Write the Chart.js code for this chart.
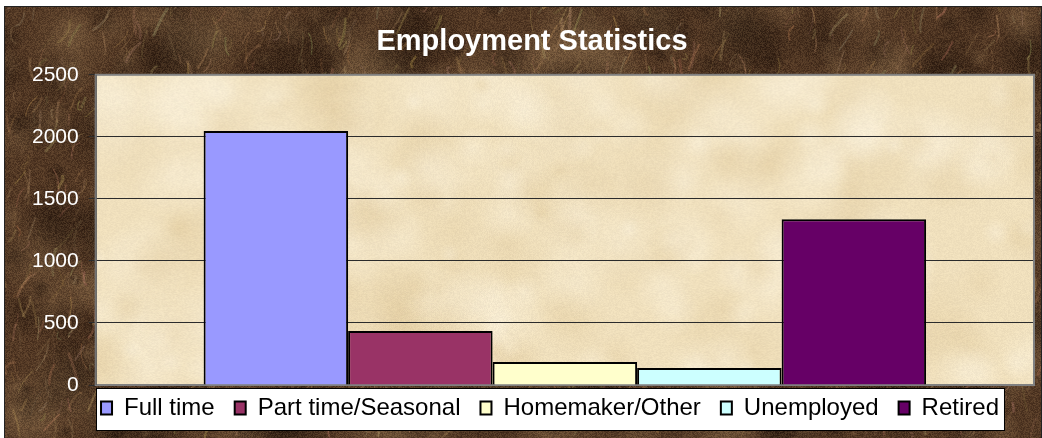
<!DOCTYPE html>
<html>
<head>
<meta charset="utf-8">
<title>Employment Statistics</title>
<script src="https://cdn.jsdelivr.net/npm/chart.js@4.4.0/dist/chart.umd.min.js"></script>
<style>
html, body { margin: 0; padding: 0; background: #fff; }
#wrap { position: absolute; left: 4px; top: 6px; width: 1036px; height: 432px; border: 1px solid #222; border-bottom: none; }
</style>
</head>
<body>
<div id="wrap"><canvas id="chart"></canvas></div>
<script>
// data
var categories = ["Employment"];
var seriesNames = ["Full time", "Part time/Seasonal", "Homemaker/Other", "Unemployed", "Retired"];
var seriesValues = [2048, 435, 185, 138, 1335];
var seriesColors = ["#9999FF", "#993366", "#FFFFCC", "#CCFFFF", "#660066"];
var yMin = 0, yMax = 2500, yStep = 500;

Chart.defaults.font.family = "'Liberation Sans', Arial, sans-serif";

// little seeded generator, only used for the background textures
function rng(seed) {
    return function () {
        seed |= 0; seed = seed + 0x6D2B79F5 | 0;
        var t = Math.imul(seed ^ seed >>> 15, 1 | seed);
        t = t + Math.imul(t ^ t >>> 7, 61 | t) ^ t;
        return ((t ^ t >>> 14) >>> 0) / 4294967296;
    };
}

function blob(g, x, y, rad, rgb, alpha) {
    var gr = g.createRadialGradient(x, y, 0, x, y, rad);
    gr.addColorStop(0, 'rgba(' + rgb + ',' + alpha + ')');
    gr.addColorStop(1, 'rgba(' + rgb + ',0)');
    g.fillStyle = gr;
    g.fillRect(x - rad, y - rad, rad * 2, rad * 2);
}

function makeMarble(w, h) {
    var c = document.createElement('canvas');
    c.width = w; c.height = h;
    var g = c.getContext('2d');
    var r = rng(11);
    g.fillStyle = '#523824';
    g.fillRect(0, 0, w, h);
    for (var i = 0; i < 460; i++) {
        var x = r() * w, y = r() * h, rad = 8 + r() * 40;
        if (r() < 0.5) blob(g, x, y, rad, '30,18,10', 0.4);
        else blob(g, x, y, rad, '140,110,76', 0.34);
    }
    g.lineCap = 'round';
    for (var i = 0; i < 1400; i++) {
        var x = r() * w, y = r() * h;
        var a = -1.9 + r() * 1.1;
        var len = 5 + r() * 26;
        g.beginPath();
        g.moveTo(x, y);
        g.quadraticCurveTo(x + Math.cos(a) * len * 0.5 + (r() - 0.5) * 12, y + Math.sin(a) * len * 0.5 + (r() - 0.5) * 12,
            x + Math.cos(a) * len, y + Math.sin(a) * len);
        g.strokeStyle = 'rgba(' + (150 + r() * 50 | 0) + ',' + (118 + r() * 45 | 0) + ',' + (80 + r() * 35 | 0) + ',' + (0.1 + r() * 0.28) + ')';
        g.lineWidth = 0.8 + r() * 2;
        g.stroke();
    }
    var img = g.getImageData(0, 0, w, h), d = img.data;
    for (var p = 0; p < d.length; p += 4) {
        var n = (r() - 0.5) * 34;
        d[p] += n; d[p + 1] += n * 0.85; d[p + 2] += n * 0.6;
    }
    g.putImageData(img, 0, 0);
    return c;
}

function makeParchment(w, h) {
    var c = document.createElement('canvas');
    c.width = w; c.height = h;
    var g = c.getContext('2d');
    var r = rng(5);
    g.fillStyle = '#f0e0bd';
    g.fillRect(0, 0, w, h);
    for (var i = 0; i < 300; i++) {
        var x = r() * w, y = r() * h, rad = 10 + r() * 40;
        if (r() < 0.5) blob(g, x, y, rad, '226,204,160', 0.35);
        else blob(g, x, y, rad, '250,241,220', 0.45);
    }
    var img = g.getImageData(0, 0, w, h), d = img.data;
    for (var p = 0; p < d.length; p += 4) {
        var n = (r() - 0.5) * 12;
        d[p] += n; d[p + 1] += n; d[p + 2] += n * 0.8;
    }
    g.putImageData(img, 0, 0);
    return c;
}

var marble = makeMarble(1036, 432);
var parchment = makeParchment(940, 310);

var backdrop = {
    id: 'backdrop',
    afterLayout: function (chart) {
        // nudge title and legend, like the original
        chart.titleBlock.left += 4; chart.titleBlock.right += 4;
        chart.legend.left += 22; chart.legend.right += 22;
        chart.legend.top -= 9; chart.legend.bottom -= 9;
    },
    beforeDraw: function (chart) {
        var ctx = chart.ctx, a = chart.chartArea;
        ctx.save();
        ctx.drawImage(marble, 0, 0, chart.width, chart.height);
        ctx.drawImage(parchment, a.left, a.top, a.right - a.left, a.bottom - a.top);
        var hb = chart.legend.legendHitBoxes;
        if (hb && hb.length) {
            var first = hb[0], last = hb[hb.length - 1];
            var cy = first.top + first.height / 2;
            var x0 = first.left - 5, x1 = last.left + last.width + 5;
            ctx.fillStyle = '#ffffff';
            ctx.fillRect(x0, cy - 20, x1 - x0, 42);
            ctx.strokeStyle = '#000';
            ctx.lineWidth = 1;
            ctx.strokeRect(Math.round(x0) + 0.5, Math.round(cy - 20) + 0.5, Math.round(x1 - x0), 42);
        }
        ctx.restore();
    },
    beforeDatasetsDraw: function (chart) {
        var ctx = chart.ctx, a = chart.chartArea;
        ctx.save();
        ctx.strokeStyle = '#808080';
        ctx.lineWidth = 2;
        ctx.strokeRect(a.left, a.top, a.right - a.left, a.bottom - a.top);
        ctx.strokeStyle = '#555';
        ctx.lineWidth = 1;
        ctx.beginPath();
        ctx.moveTo(a.left + 0.5, a.top);
        ctx.lineTo(a.left + 0.5, a.bottom);
        ctx.stroke();
        ctx.restore();
    }
};

var datasets = [];
for (var i = 0; i < seriesNames.length; i++) {
    datasets.push({
        label: seriesNames[i],
        data: [seriesValues[i]],
        backgroundColor: seriesColors[i],
        borderColor: '#000000',
        borderWidth: 2,
        categoryPercentage: 0.77,
        barPercentage: 1.0
    });
}

var chart = new Chart('chart', {
    type: 'bar',
    data: {
        labels: categories,
        datasets: datasets
    },
    options: {
        responsive: true,
        maintainAspectRatio: false,
        animation: false,
        layout: { padding: { left: 17, right: 7, top: 0, bottom: 0 } },
        plugins: {
            title: {
                display: true,
                text: 'Employment Statistics',
                color: '#ffffff',
                font: { size: 29, weight: 'bold' },
                padding: { top: 18, bottom: 15 }
            },
            legend: {
                display: true,
                position: 'bottom',
                labels: {
                    color: '#000000',
                    font: { size: 24 },
                    boxWidth: 11,
                    boxHeight: 13,
                    padding: 20
                }
            },
            tooltip: { enabled: false }
        },
        scales: {
            x: { display: false },
            y: {
                min: yMin,
                max: yMax,
                ticks: {
                    stepSize: yStep,
                    color: '#ffffff',
                    font: { size: 21 },
                    padding: 10,
                    callback: function (v) { return String(v); }
                },
                grid: {
                    color: '#2b2b2b',
                    lineWidth: 1,
                    tickLength: 7
                },
                border: { display: false }
            }
        }
    },
    plugins: [backdrop]
});
</script>
</body>
</html>
